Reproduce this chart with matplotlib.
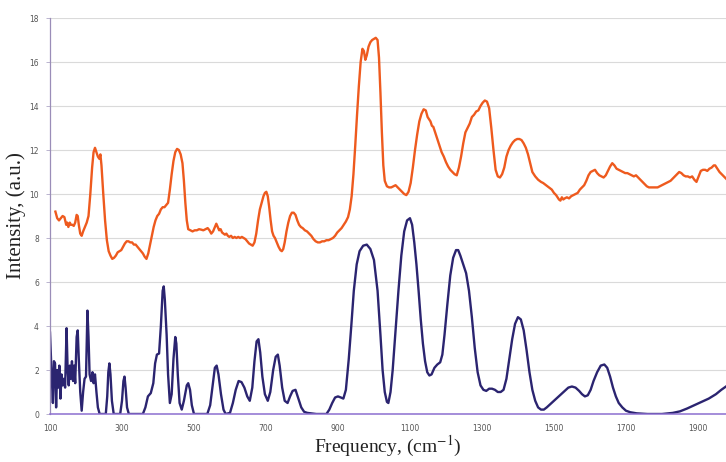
import matplotlib
matplotlib.use("Agg")
import matplotlib.pyplot as plt

# Raman-type spectra: frequency (cm-1) vs intensity (a.u.)
freq_upper = [115, 120, 125, 130, 135, 140, 145, 148, 151, 155, 158, 162, 166, 170, 174, 177, 180, 184, 188, 192,
              197, 202, 207, 212, 217, 221, 225, 229, 233, 237, 240, 243, 248, 253, 258, 263, 268, 273, 278, 283,
              288, 293, 298, 303, 308, 313, 318, 323, 328, 333, 338, 343, 348, 353, 358, 363, 368, 373, 378, 383,
              388, 393, 398, 403, 408, 413, 418, 423, 428, 433, 438, 443, 448, 453, 458, 463, 468, 472, 476, 480,
              484, 490, 496, 502, 508, 514, 520, 526, 532, 538, 543, 548, 553, 558, 562, 566, 570, 574, 578, 582,
              586, 590, 594, 598, 603, 608, 613, 618, 623, 628, 633, 638, 643, 648, 653, 658, 663, 668, 673, 678,
              683, 688, 693, 697, 701, 705, 709, 713, 717, 721, 725, 730, 735, 740, 744, 748, 752, 757, 762, 767,
              772, 777, 782, 787, 792, 797, 802, 808, 814, 820, 826, 832, 838, 844, 850, 856, 862, 868, 874, 880,
              886, 892, 898, 904, 910, 916, 922, 928, 933, 938, 943, 948, 953, 958, 963, 968, 972, 976, 980, 985,
              990, 995, 1000, 1005, 1010, 1014, 1018, 1022, 1026, 1030, 1036, 1042, 1048, 1054, 1060, 1066, 1072,
              1078, 1084, 1090, 1096, 1102, 1108, 1114, 1120, 1126, 1132, 1138, 1144, 1149, 1153, 1157, 1161, 1165,
              1170, 1176, 1182, 1188, 1194, 1200, 1206, 1212, 1218, 1224, 1230, 1236, 1242, 1248, 1254, 1260, 1266,
              1272, 1278, 1284, 1290, 1296, 1302, 1308, 1314, 1320, 1326, 1332, 1338, 1344, 1350, 1356, 1362, 1368,
              1374, 1380, 1386, 1392, 1398, 1404, 1410, 1416, 1422, 1428, 1434, 1440, 1448, 1456, 1464, 1470, 1478,
              1486, 1494, 1500, 1506, 1510, 1514, 1518, 1522, 1526, 1530, 1536, 1542, 1548, 1554, 1560, 1566, 1572,
              1578, 1584, 1590, 1596, 1602, 1608, 1614, 1620, 1626, 1632, 1638, 1644, 1650, 1656, 1662, 1668, 1674,
              1680, 1686, 1692, 1698, 1704, 1710, 1716, 1722, 1728, 1734, 1740, 1746, 1752, 1758, 1764, 1770, 1776,
              1782, 1788, 1794, 1800, 1806, 1812, 1818, 1824, 1830, 1836, 1842, 1848, 1854, 1860, 1866, 1872, 1878,
              1884, 1890, 1896, 1902, 1908, 1914, 1920, 1926, 1932, 1938, 1944, 1948, 1954, 1960, 1966, 1972, 1978]
int_upper = [9.2, 8.9, 8.8, 8.9, 9.0, 8.95, 8.6, 8.7, 8.5, 8.7, 8.6, 8.6, 8.55, 8.7, 9.05, 9.0, 8.6, 8.2, 8.1, 8.3,
             8.5, 8.7, 9.0, 10.0, 11.2, 11.9, 12.1, 11.9, 11.7, 11.6, 11.8, 11.3, 10.0, 8.8, 7.9, 7.4, 7.2, 7.05, 7.1, 7.2,
             7.35, 7.4, 7.45, 7.6, 7.75, 7.85, 7.85, 7.8, 7.8, 7.7, 7.7, 7.6, 7.5, 7.4, 7.3, 7.15, 7.05, 7.3, 7.7, 8.1,
             8.5, 8.8, 9.0, 9.1, 9.3, 9.4, 9.4, 9.5, 9.6, 10.2, 10.9, 11.5, 11.9, 12.05, 12.0, 11.8, 11.4, 10.6, 9.6, 8.8,
             8.4, 8.35, 8.3, 8.35, 8.35, 8.4, 8.38, 8.35, 8.4, 8.45, 8.35, 8.2, 8.3, 8.5, 8.65, 8.5, 8.35, 8.4, 8.25, 8.2,
             8.15, 8.2, 8.1, 8.05, 8.1, 8.0, 8.05, 8.0, 8.05, 8.0, 8.05, 8.0, 7.95, 7.85, 7.75, 7.7, 7.65, 7.8, 8.2, 8.8,
             9.3, 9.6, 9.9, 10.05, 10.1, 9.9, 9.4, 8.8, 8.3, 8.1, 8.0, 7.8, 7.6, 7.45, 7.4, 7.5, 7.8, 8.3, 8.7, 9.0,
             9.15, 9.15, 9.05, 8.8, 8.6, 8.5, 8.45, 8.35, 8.3, 8.2, 8.1, 7.95, 7.85, 7.8, 7.8, 7.85, 7.85, 7.9, 7.9, 7.95,
             8.0, 8.1, 8.25, 8.35, 8.45, 8.6, 8.75, 8.95, 9.3, 9.9, 10.9, 12.2, 13.6, 14.9, 16.0, 16.6, 16.5, 16.1, 16.3, 16.7,
             16.9, 17.0, 17.05, 17.1, 17.0, 16.2, 14.6, 12.8, 11.3, 10.6, 10.35, 10.3, 10.3, 10.35, 10.4, 10.3, 10.2,
             10.1, 10.0, 9.95, 10.1, 10.5, 11.2, 12.0, 12.7, 13.3, 13.65, 13.85, 13.8, 13.5, 13.4, 13.3, 13.1, 13.05,
             12.8, 12.5, 12.2, 11.9, 11.7, 11.45, 11.25, 11.1, 11.0, 10.9, 10.85, 11.2, 11.7, 12.3, 12.8, 13.0, 13.2,
             13.5, 13.6, 13.75, 13.8, 14.0, 14.15, 14.25, 14.2, 13.9, 13.0, 12.0, 11.1, 10.8, 10.75, 10.9, 11.2, 11.7,
             12.0, 12.2, 12.35, 12.45, 12.5, 12.5, 12.45, 12.3, 12.1, 11.8, 11.4, 11.0, 10.8, 10.65, 10.55, 10.5, 10.4,
             10.3, 10.2, 10.05, 9.95, 9.85, 9.75, 9.7, 9.85, 9.75, 9.8, 9.85, 9.8, 9.9, 9.95, 10.0, 10.05, 10.2,
             10.3, 10.4, 10.6, 10.85, 11.0, 11.05, 11.1, 10.95, 10.85, 10.8, 10.75, 10.85, 11.05, 11.25, 11.4, 11.3, 11.15,
             11.1, 11.05, 11.0, 10.95, 10.95, 10.9, 10.85, 10.8, 10.85, 10.75, 10.65, 10.55, 10.45, 10.35, 10.3, 10.3, 10.3,
             10.3, 10.3, 10.35, 10.4, 10.45, 10.5, 10.55, 10.6, 10.7, 10.8, 10.9, 11.0, 10.95, 10.85, 10.8, 10.8, 10.75,
             10.8, 10.65, 10.55, 10.8, 11.05, 11.1, 11.1, 11.05, 11.15, 11.2, 11.3, 11.3, 11.15, 11.0, 10.9, 10.8, 10.7]

freq_lower = [100, 104, 108, 111, 114, 117, 120, 123, 126, 129, 132, 135, 138, 142, 146, 149, 152, 155, 158, 161,
              164, 167, 170, 174, 177, 180, 184, 188, 192, 196, 200, 204, 207, 210, 214, 218, 221, 225, 229, 233,
              238, 255, 259, 262, 265, 268, 272, 277, 295, 300, 304, 307, 310, 314, 319, 358, 365, 372, 380, 387,
              392, 397, 403, 408, 413, 416, 419, 424, 428, 433, 438, 443, 448, 451, 455, 460, 466, 472, 480, 484,
              489, 494, 500, 537, 545, 552, 558, 563, 568, 575, 582, 588, 600, 608, 616, 624, 632, 640, 648, 655,
              662, 668, 674, 679, 684, 690, 697, 705, 712, 720, 727, 733, 738, 745, 752, 760, 767, 774, 782, 790,
              798, 806, 815, 840, 868, 876, 884, 892, 900, 908, 915, 922, 930, 937, 944, 952, 960, 970, 980, 990,
              1000, 1010, 1018, 1024, 1030, 1036, 1040, 1046, 1052, 1060, 1068, 1076, 1084, 1092, 1100, 1106, 1112,
              1118, 1124, 1130, 1136, 1142, 1148, 1154, 1160, 1168, 1176, 1184, 1190, 1196, 1204, 1212, 1220, 1228,
              1234, 1240, 1248, 1256, 1264, 1272, 1280, 1288, 1296, 1304, 1312, 1320, 1328, 1336, 1344, 1352, 1360,
              1368, 1376, 1384, 1392, 1400, 1408, 1416, 1424, 1432, 1440, 1448, 1456, 1464, 1472, 1480, 1490, 1500,
              1510, 1520, 1530, 1540, 1550, 1560, 1570, 1578, 1586, 1594, 1602, 1610, 1620, 1630, 1640, 1648, 1656,
              1664, 1672, 1680, 1690, 1700, 1712, 1730, 1760, 1800, 1830, 1850, 1870, 1890, 1910, 1930, 1950, 1965, 1978]
int_lower = [3.7, 2.0, 0.5, 2.4, 2.3, 0.3, 2.0, 1.2, 2.2, 0.7, 1.8, 1.3, 1.6, 1.2, 3.9, 2.0, 1.3, 2.2, 1.6, 2.4,
             1.5, 2.2, 1.4, 3.5, 3.8, 2.5, 1.0, 0.15, 1.0, 1.6, 1.7, 4.7, 3.5, 1.8, 1.5, 1.9, 1.4, 1.8, 1.0, 0.3,
             0.0, 0.0, 0.8, 1.9, 2.3, 1.8, 0.6, 0.0, 0.0, 0.6, 1.5, 1.7, 1.2, 0.3, 0.0, 0.0, 0.3, 0.8, 0.95, 1.4,
             2.3, 2.7, 2.75, 4.0, 5.6, 5.8, 5.2, 3.6, 1.8, 0.5, 0.9, 2.5, 3.5, 3.2, 1.8, 0.5, 0.2, 0.6, 1.3, 1.4,
             1.1, 0.4, 0.0, 0.0, 0.4, 1.3, 2.1, 2.2, 1.8, 0.9, 0.2, 0.0, 0.05, 0.5, 1.1, 1.5, 1.45, 1.2, 0.8, 0.6,
             1.2, 2.4, 3.3, 3.4, 2.8, 1.7, 0.9, 0.6, 1.0, 2.0, 2.6, 2.7, 2.2, 1.2, 0.6, 0.5, 0.8, 1.05, 1.1, 0.7,
             0.3, 0.1, 0.05, 0.0, 0.0, 0.2, 0.5, 0.75, 0.8, 0.75, 0.7, 1.1, 2.5, 4.0, 5.6, 6.8, 7.4, 7.65, 7.7, 7.5,
             7.0, 5.6, 3.6, 2.0, 1.0, 0.55, 0.5, 1.0, 2.0, 3.8, 5.6, 7.2, 8.3, 8.8, 8.9, 8.6, 7.8,
             6.8, 5.6, 4.3, 3.2, 2.4, 1.9, 1.75, 1.8, 2.1, 2.25, 2.35, 2.7, 3.6, 5.0, 6.3, 7.1, 7.45,
             7.45, 7.2, 6.8, 6.4, 5.6, 4.4, 3.0, 1.9, 1.3, 1.1, 1.05, 1.15, 1.15, 1.1, 1.0, 1.0, 1.1,
             1.6, 2.5, 3.4, 4.1, 4.4, 4.3, 3.8, 2.9, 1.9, 1.1, 0.6, 0.3, 0.2, 0.2, 0.3, 0.45, 0.6,
             0.75, 0.9, 1.05, 1.2, 1.25, 1.2, 1.05, 0.9, 0.8, 0.85, 1.1, 1.5, 1.9, 2.2, 2.25, 2.1, 1.7,
             1.2, 0.8, 0.5, 0.3, 0.15, 0.08, 0.03, 0.0, 0.0, 0.05, 0.12, 0.25, 0.4, 0.55, 0.7, 0.9, 1.1, 1.25]

x_ticks = [100, 300, 500, 700, 900, 1100, 1300, 1500, 1700, 1900]
y_ticks = [0, 2, 4, 6, 8, 10, 12, 14, 16, 18]

plt.rcParams["mathtext.fontset"] = "stix"

fig = plt.figure(figsize=(7.26, 4.62), dpi=100)
ax = fig.add_axes([50 / 726, 48 / 462, 676 / 726, 396 / 462])

ax.plot(freq_upper, int_upper, color="#EE5A1E", lw=1.7, solid_joinstyle="round")
ax.plot(freq_lower, int_lower, color="#2B2470", lw=1.7, solid_joinstyle="round")

ax.set_xlim(100, 1978)
ax.set_ylim(0, 18)
ax.set_xticks(x_ticks)
ax.set_yticks(y_ticks)
ax.tick_params(axis="x", length=0, labelsize=5.5, labelcolor="#555555", pad=7)
ax.tick_params(axis="y", length=3, direction="out", color="#B0A8C8", width=0.6,
               labelsize=5.5, labelcolor="#555555", pad=5)
ax.grid(axis="y", color="#DADADA", lw=0.8)
ax.set_axisbelow(True)

for side in ("top", "right"):
    ax.spines[side].set_visible(False)
ax.spines["left"].set_color("#9A8DB8")
ax.spines["bottom"].set_color("#8C6FD0")
ax.spines["left"].set_linewidth(0.9)
ax.spines["bottom"].set_linewidth(1.1)

ax.set_ylabel("Intensity, (a.u.)", family="Liberation Serif", fontsize=15, color="#222222", labelpad=2)
ax.set_xlabel("Frequency, (cm$^{-1}$)", family="Liberation Serif", fontsize=14, color="#222222", labelpad=1)

fig.savefig("out.png", dpi=100)
